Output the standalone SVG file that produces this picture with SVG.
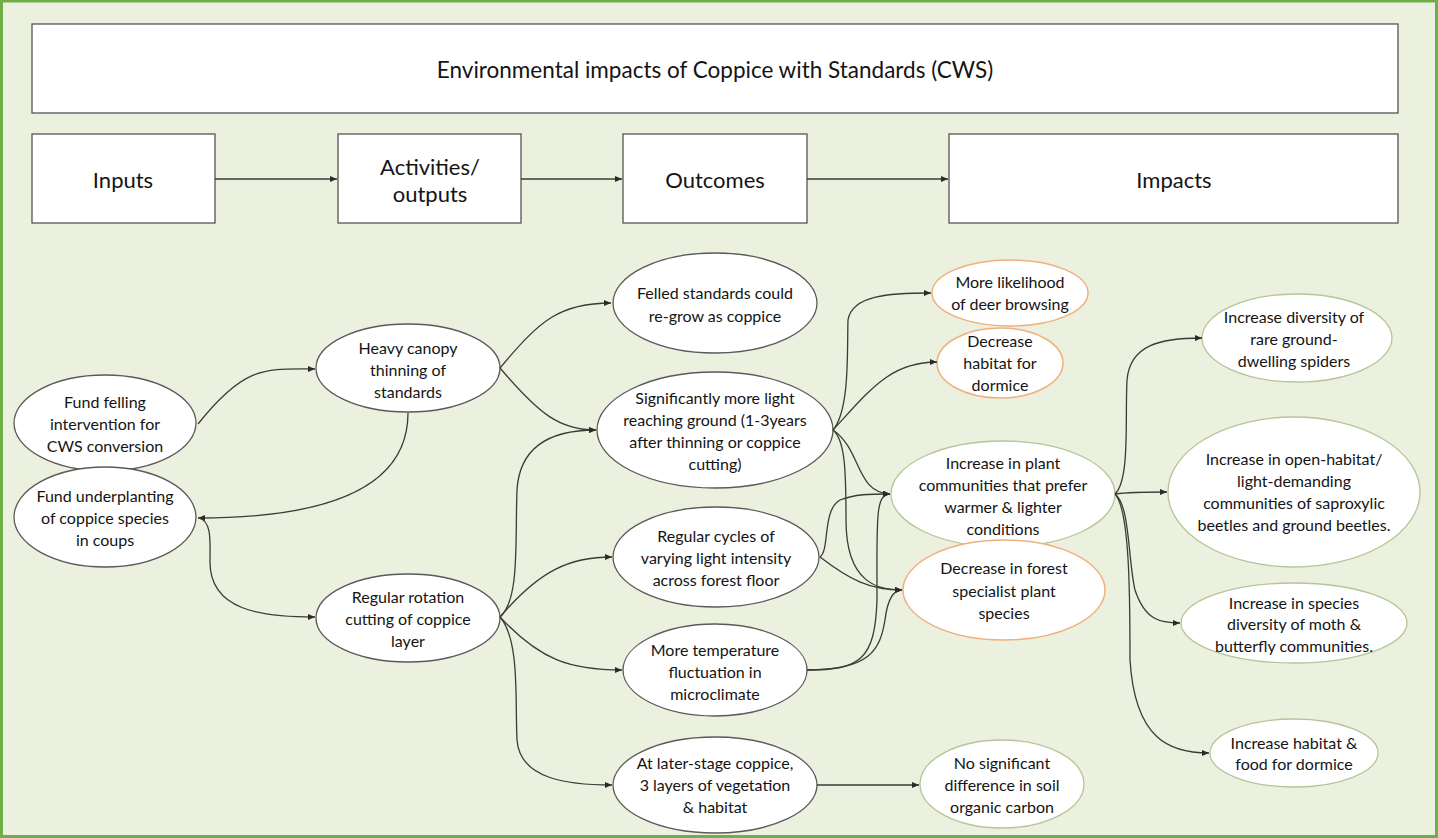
<svg xmlns="http://www.w3.org/2000/svg" width="1438" height="838" viewBox="0 0 1438 838">
<defs>
<marker id="ah" markerUnits="userSpaceOnUse" markerWidth="8" markerHeight="6" refX="7" refY="3" orient="auto">
<path d="M0,0 L7,3 L0,6 z" fill="#2b2b2b"/>
</marker>
<style>
text{font-family:Lato,"Open Sans","Liberation Sans",sans-serif;fill:#141414;text-anchor:middle;dominant-baseline:central}
.n{font-size:16px}
.h{font-size:22px}
.t{font-size:22.5px}
.box{fill:#fff;stroke:#555;stroke-width:1.3}
.e{fill:#fff;stroke:#5a5a5a;stroke-width:1.3}
.o{fill:#fff;stroke:#F0B07E;stroke-width:1.5}
.g{fill:#fff;stroke:#B4C698;stroke-width:1.3}
.c path{fill:none;stroke:#3a3d36;stroke-width:1.3;marker-end:url(#ah)}
</style>
</defs>
<rect x="1.5" y="1" width="1435" height="835.5" fill="#EBF0DF" stroke="#72AE48" stroke-width="3"/>

<g id="title"><rect class="box" x="32" y="24" width="1366" height="89"/><text class="t" x="715" y="69">Environmental impacts of Coppice with Standards (CWS)</text></g>
<g id="inputs"><rect class="box" x="32" y="134" width="183" height="89"/><text class="h" x="123" y="179">Inputs</text></g>
<g id="activities"><rect class="box" x="338" y="134" width="183" height="89"/><text class="h" x="430" y="166">Activities/</text><text class="h" x="430" y="193">outputs</text></g>
<g id="outcomes"><rect class="box" x="623" y="134" width="184" height="89"/><text class="h" x="715" y="179">Outcomes</text></g>
<g id="impacts"><rect class="box" x="949" y="134" width="449" height="89"/><text class="h" x="1174" y="179">Impacts</text></g>

<g id="n-fund-felling"><ellipse class="e" cx="105" cy="423" rx="91" ry="48"/><text class="n" x="105" y="401">Fund felling</text><text class="n" x="105" y="423">intervention for</text><text class="n" x="105" y="445">CWS conversion</text></g>
<g id="n-fund-under"><ellipse class="e" cx="105" cy="517" rx="91" ry="50"/><text class="n" x="105" y="495">Fund underplanting</text><text class="n" x="105" y="517">of coppice species</text><text class="n" x="105" y="539">in coups</text></g>
<g id="n-heavy"><ellipse class="e" cx="408" cy="368" rx="92" ry="44"/><text class="n" x="408" y="347">Heavy canopy</text><text class="n" x="408" y="369">thinning of</text><text class="n" x="408" y="391">standards</text></g>
<g id="n-rotation"><ellipse class="e" cx="408" cy="618" rx="92" ry="44"/><text class="n" x="408" y="596">Regular rotation</text><text class="n" x="408" y="618">cutting of coppice</text><text class="n" x="408" y="640">layer</text></g>
<g id="n-felled"><ellipse class="e" cx="715" cy="303" rx="102" ry="50"/><text class="n" x="715" y="292">Felled standards could</text><text class="n" x="715" y="315">re-grow as coppice</text></g>
<g id="n-light"><ellipse class="e" cx="715" cy="430" rx="118" ry="58"/><text class="n" x="715" y="397">Significantly more light</text><text class="n" x="715" y="419">reaching ground (1-3years</text><text class="n" x="715" y="441">after thinning or coppice</text><text class="n" x="715" y="463">cutting)</text></g>
<g id="n-cycles"><ellipse class="e" cx="716" cy="557" rx="103" ry="50"/><text class="n" x="716" y="535">Regular cycles of</text><text class="n" x="716" y="557">varying light intensity</text><text class="n" x="716" y="579">across forest floor</text></g>
<g id="n-temp"><ellipse class="e" cx="715" cy="670" rx="92" ry="46"/><text class="n" x="715" y="649">More temperature</text><text class="n" x="715" y="671">fluctuation in</text><text class="n" x="715" y="693">microclimate</text></g>
<g id="n-later"><ellipse class="e" cx="715" cy="785" rx="102" ry="48"/><text class="n" x="715" y="762">At later-stage coppice,</text><text class="n" x="715" y="784">3 layers of vegetation</text><text class="n" x="715" y="806">&amp; habitat</text></g>
<g id="n-deer"><ellipse class="o" cx="1010" cy="293" rx="78" ry="33"/><text class="n" x="1010" y="281">More likelihood</text><text class="n" x="1010" y="303">of deer browsing</text></g>
<g id="n-dormice-dec"><ellipse class="o" cx="1000" cy="363" rx="63" ry="35"/><text class="n" x="1000" y="340">Decrease</text><text class="n" x="1000" y="362">habitat for</text><text class="n" x="1000" y="384">dormice</text></g>
<g id="n-plant"><ellipse class="g" cx="1003" cy="494" rx="112" ry="53"/><text class="n" x="1003" y="462">Increase in plant</text><text class="n" x="1003" y="484">communities that prefer</text><text class="n" x="1003" y="506">warmer &amp; lighter</text><text class="n" x="1003" y="528">conditions</text></g>
<g id="n-specialist"><ellipse class="o" cx="1004" cy="590" rx="101" ry="50"/><text class="n" x="1004" y="567">Decrease in forest</text><text class="n" x="1004" y="590">specialist plant</text><text class="n" x="1004" y="612">species</text></g>
<g id="n-soil"><ellipse class="g" cx="1002" cy="784" rx="82" ry="44"/><text class="n" x="1002" y="762">No significant</text><text class="n" x="1002" y="784">difference in soil</text><text class="n" x="1002" y="806">organic carbon</text></g>
<g id="n-spiders"><ellipse class="g" cx="1297" cy="338" rx="95" ry="44"/><text class="n" x="1294" y="316">Increase diversity of</text><text class="n" x="1294" y="338">rare ground-</text><text class="n" x="1294" y="360">dwelling spiders</text></g>
<g id="n-beetles"><ellipse class="g" cx="1294" cy="492" rx="126" ry="75"/><text class="n" x="1294" y="458">Increase in open-habitat/</text><text class="n" x="1294" y="480">light-demanding</text><text class="n" x="1294" y="502">communities of saproxylic</text><text class="n" x="1294" y="524">beetles and ground beetles.</text></g>
<g id="n-moth"><ellipse class="g" cx="1294" cy="623" rx="113" ry="40"/><text class="n" x="1294" y="602">Increase in species</text><text class="n" x="1294" y="623">diversity of moth &amp;</text><text class="n" x="1294" y="645">butterfly communities.</text></g>
<g id="n-dormice-inc"><ellipse class="g" cx="1294" cy="753" rx="84" ry="34"/><text class="n" x="1294" y="742">Increase habitat &amp;</text><text class="n" x="1294" y="763">food for dormice</text></g>

<g id="connectors" class="c">
<path d="M215,179 L337,179"/>
<path d="M521,179 L622,179"/>
<path d="M807,179 L948,179"/>
<path d="M198,424 C245,365 265,369 315,369"/>
<path d="M408,413 C408,500 300,518 198,518"/>
<path d="M199,518 C212,522 210,540 210,562 C210,610 260,617 315,617"/>
<path d="M500,368 C540,320 560,303 611,303"/>
<path d="M500,368 C540,415 560,430 596,430"/>
<path d="M500,617 C520,600 515,540 517,490 C520,440 560,430 596,430"/>
<path d="M500,617 C540,570 570,557 612,557"/>
<path d="M500,617 C540,660 570,670 622,670"/>
<path d="M500,617 C520,640 515,700 517,740 C520,780 570,785 612,785"/>
<path d="M833,430 C850,410 847,350 848,320 C852,295 890,293 931,293"/>
<path d="M833,430 C870,390 890,362 937,362"/>
<path d="M833,430 C862,450 855,492 890,494"/>
<path d="M833,430 C845,440 846,470 846,520 C846,585 880,590 902,590"/>
<path d="M820,557 C830,550 822,510 840,500 C855,494 870,494 890,494"/>
<path d="M820,557 C850,580 870,590 902,590"/>
<path d="M807,670 C860,670 875,660 877,600 C877,520 875,494 890,494"/>
<path d="M807,670 C870,670 880,650 885,620 C888,595 895,590 902,590"/>
<path d="M817,785 L919,785"/>
<path d="M1115,494 C1130,480 1125,420 1127,380 C1130,345 1160,338 1202,338"/>
<path d="M1115,494 C1130,492 1140,492 1167,492"/>
<path d="M1115,494 C1130,505 1128,560 1135,590 C1145,620 1160,623 1180,623"/>
<path d="M1115,494 C1130,510 1130,600 1130,660 C1135,740 1170,753 1209,753"/>
</g>
</svg>
